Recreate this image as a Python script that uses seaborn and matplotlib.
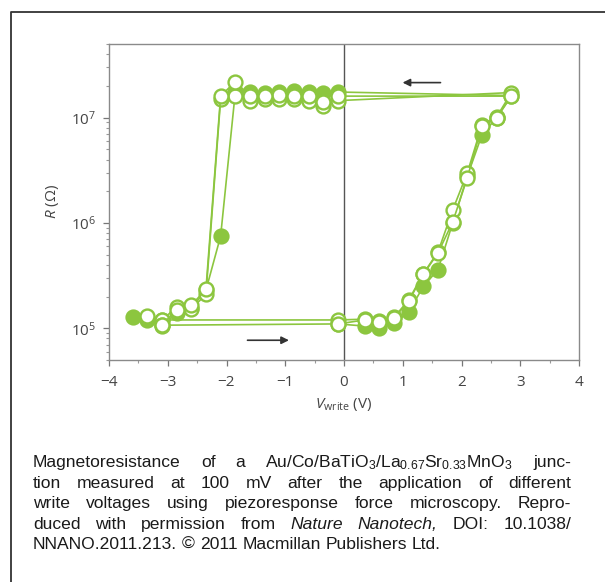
import numpy as np
import pandas as pd
import matplotlib
matplotlib.use('Agg')
import matplotlib.pyplot as plt
from matplotlib.lines import Line2D
from matplotlib.ticker import MultipleLocator, LogLocator, NullFormatter
import seaborn as sns

# %% data (write voltage in V, resistance in Ohm)
# filled cycle
v_filled = [-0.1, 0.35, 0.6, 0.85, 1.1, 1.35, 1.6, 1.85, 2.1, 2.35, 2.6, 2.85,
            -0.1, -0.35, -0.6, -0.85, -1.1, -1.35, -1.6, -1.85, -2.1, -2.35,
            -2.6, -2.85, -3.1, -3.35, -3.6]
r_filled = [1.1e5, 1.05e5, 1.0e5, 1.12e5, 1.42e5, 2.5e5, 3.6e5, 1.0e6, 2.8e6, 6.9e6, 1.0e7, 1.62e7,
            1.75e7, 1.7e7, 1.75e7, 1.8e7, 1.75e7, 1.7e7, 1.75e7, 1.75e7, 7.5e5, 2.3e5,
            1.55e5, 1.4e5, 1.05e5, 1.2e5, 1.27e5]

# first open cycle
v_open_a = [-3.1, -0.1, 0.35, 0.6, 0.85, 1.1, 1.35, 1.6, 1.85, 2.1, 2.35, 2.6, 2.85,
            -0.1, -0.35, -0.6, -0.85, -1.1, -1.35, -1.6, -1.85, -2.1, -2.35,
            -2.6, -2.85, -3.1, -3.35]
r_open_a = [1.2e5, 1.2e5, 1.22e5, 1.17e5, 1.27e5, 1.85e5, 3.3e5, 5.3e5, 1.33e6, 3.0e6, 8.6e6, 1.02e7, 1.73e7,
            1.45e7, 1.3e7, 1.45e7, 1.5e7, 1.5e7, 1.5e7, 1.45e7, 1.6e7, 1.5e7, 2.1e5,
            1.52e5, 1.58e5, 1.2e5, 1.3e5]

# second open cycle
v_open_b = [-3.1, -0.1, 0.35, 0.6, 0.85, 1.1, 1.35, 1.6, 1.85, 2.1, 2.35, 2.6, 2.85,
            -0.1, -0.35, -0.6, -0.85, -1.1, -1.35, -1.6, -1.85, -2.1, -2.35,
            -2.6, -2.85, -3.1]
r_open_b = [1.07e5, 1.1e5, 1.2e5, 1.15e5, 1.25e5, 1.8e5, 3.25e5, 5.2e5, 1.02e6, 2.7e6, 8.4e6, 1.0e7, 1.6e7,
            1.6e7, 1.4e7, 1.6e7, 1.6e7, 1.65e7, 1.6e7, 1.6e7, 2.2e7, 1.6e7, 2.35e5,
            1.65e5, 1.5e5, 1.07e5]

caption_lines = [
    r"Magnetoresistance of a Au/Co/BaTiO$_3$/La$_{0.67}$Sr$_{0.33}$MnO$_3$ junc-",
    "tion measured at 100 mV after the application of different",
    "write voltages using piezoresponse force microscopy. Repro-",
    "duced with permission from _Nature _Nanotech, DOI: 10.1038/",
    "NNANO.2011.213. © 2011 Macmillan Publishers Ltd.",
]

green = '#8cc63f'

# %% style
sns.set_style('ticks')
plt.rcParams['font.family'] = ['Open Sans', 'DejaVu Sans']
plt.rcParams['mathtext.default'] = 'regular'
plt.rcParams['mathtext.fontset'] = 'custom'
plt.rcParams['mathtext.it'] = 'Open Sans:italic'
plt.rcParams['mathtext.rm'] = 'Open Sans'

W, H = 605, 582
fig = plt.figure(figsize=(W / 100, H / 100), dpi=100)
ax = fig.add_axes([109 / W, 1 - 360 / H, 470 / W, 316 / H])

filled_df = pd.DataFrame({'V': v_filled, 'R': r_filled, 'step': range(len(v_filled))})
open_a_df = pd.DataFrame({'V': v_open_a, 'R': r_open_a, 'step': range(len(v_open_a))})
open_b_df = pd.DataFrame({'V': v_open_b, 'R': r_open_b, 'step': range(len(v_open_b))})

sns.lineplot(data=filled_df, x='V', y='R', sort=False, estimator=None, ax=ax,
             color=green, lw=1.2, marker='o', markersize=10,
             markerfacecolor=green, markeredgecolor=green, markeredgewidth=1.7)
for df in [open_a_df, open_b_df]:
    sns.lineplot(data=df, x='V', y='R', sort=False, estimator=None, ax=ax,
                 color=green, lw=1.2, marker='o', markersize=10,
                 markerfacecolor='white', markeredgecolor=green, markeredgewidth=1.7)

ax.set_yscale('log')
ax.set_xlim(-4, 4)
ax.set_ylim(5e4, 5e7)
ax.axvline(0, color='#555555', lw=1, zorder=0)

ax.xaxis.set_major_locator(MultipleLocator(1))
ax.xaxis.set_minor_locator(MultipleLocator(0.5))
ax.yaxis.set_major_locator(LogLocator(base=10, numticks=10))
ax.yaxis.set_minor_locator(LogLocator(base=10, subs=np.arange(2, 10), numticks=10))
ax.yaxis.set_minor_formatter(NullFormatter())

for s in ax.spines.values():
    s.set_color('#8a8a8a')
    s.set_linewidth(1.0)
ax.tick_params(which='major', length=4, width=0.9, color='#777777', labelsize=11,
               labelcolor='#444444')
ax.tick_params(axis='x', which='major', pad=7)
ax.tick_params(axis='y', which='major', pad=5)
ax.tick_params(which='minor', length=2.5, width=0.8, color='#999999')

ax.set_xlabel(r'$\mathit{V}_{\rm write}$ (V)', fontsize=11, color='#444444')
ax.set_ylabel(r'$\mathit{R}$ (Ω)', fontsize=11, color='#444444')
ax.xaxis.set_label_coords(0.5, -0.115)
ax.yaxis.set_label_coords(-0.102, 0.5)

# sweep direction arrows
ax.annotate('', xy=(0.95, 2.15e7), xytext=(1.69, 2.15e7),
            arrowprops=dict(arrowstyle='-|>', color='#333333', lw=1.2, mutation_scale=11))
ax.annotate('', xy=(-0.89, 7.7e4), xytext=(-1.69, 7.7e4),
            arrowprops=dict(arrowstyle='-|>', color='#333333', lw=1.2, mutation_scale=11))

# frame round the figure (left and top edges)
fig.add_artist(Line2D([11 / W, 11 / W, 1], [0, 1 - 12 / H, 1 - 12 / H],
                      transform=fig.transFigure, color='#333333', lw=1.3))

# %% caption, justified word by word
fig.canvas.draw()
renderer = fig.canvas.get_renderer()
left_px, right_px = 33, 571
baselines = [467, 488, 508, 529, 549]
cap_font = dict(family=['Liberation Sans', 'DejaVu Sans'], fontsize=12.6, color='#1a1a1a')

for li, line in enumerate(caption_lines):
    words = line.split(' ')
    texts = []
    for w in words:
        style = 'normal'
        if w.startswith('_'):
            w = w[1:]
            style = 'italic'
        t = fig.text(0, 1 - baselines[li] / H, w, va='baseline', ha='left',
                     style=style, **cap_font)
        texts.append(t)
    widths = [t.get_window_extent(renderer).width for t in texts]
    if li < len(caption_lines) - 1:
        gap = (right_px - left_px - sum(widths)) / (len(words) - 1)
    else:
        sp = fig.text(0, 0, 'a b', **cap_font)
        ab = sp.get_window_extent(renderer).width
        sp.remove()
        sa = fig.text(0, 0, 'ab', **cap_font)
        gap = ab - sa.get_window_extent(renderer).width
        sa.remove()
    x = left_px
    for t, wd in zip(texts, widths):
        t.set_x(x / W)
        x += wd + gap

fig.savefig('out.png', dpi=100)
